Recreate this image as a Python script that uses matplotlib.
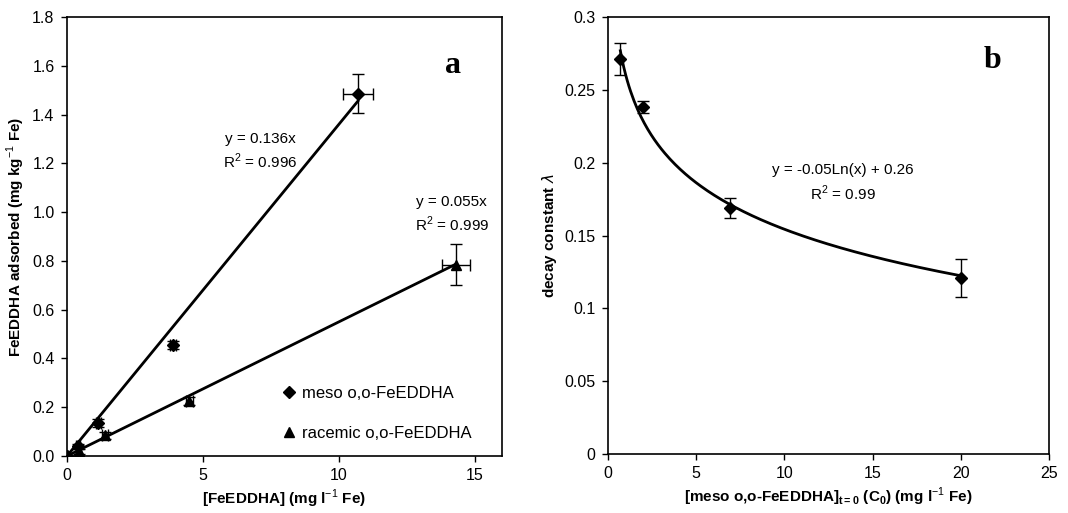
import numpy as np
import matplotlib.pyplot as plt
from matplotlib.lines import Line2D

plt.rcParams['font.family'] = ['Liberation Sans', 'DejaVu Sans']
plt.rcParams['mathtext.fontset'] = 'custom'
plt.rcParams['mathtext.rm'] = 'Liberation Sans'
plt.rcParams['mathtext.bf'] = 'Liberation Sans:bold'

# panel a: adsorbed FeEDDHA vs concentration
meso_x = [0.0, 0.4, 1.15, 3.9, 10.7]
meso_y = [0.0, 0.04, 0.135, 0.455, 1.485]
meso_xerr = [0.0, 0.08, 0.1, 0.12, 0.55]
meso_yerr = [0.0, 0.01, 0.015, 0.015, 0.08]
meso_slope = 0.136

rac_x = [0.0, 0.45, 1.4, 4.5, 14.3]
rac_y = [0.0, 0.02, 0.085, 0.225, 0.785]
rac_xerr = [0.0, 0.08, 0.12, 0.12, 0.52]
rac_yerr = [0.0, 0.01, 0.015, 0.015, 0.085]
rac_slope = 0.055

# panel b: decay constant vs initial concentration
c0 = [0.7, 2.0, 6.9, 20.0]
decay = [0.271, 0.238, 0.169, 0.121]
decay_err = [0.011, 0.004, 0.007, 0.013]

fig = plt.figure(figsize=(10.68, 5.13), dpi=100)
ax1 = fig.add_axes([67 / 1068, 1 - 456 / 513, 435 / 1068, 439 / 513])
ax2 = fig.add_axes([608 / 1068, 1 - 454 / 513, 441 / 1068, 437 / 513])

# --- a ---
xm = np.linspace(0, max(meso_x), 50)
xr = np.linspace(0, max(rac_x), 50)
ax1.plot(xm, meso_slope * xm, color='black', lw=2, zorder=2)
ax1.plot(xr, rac_slope * xr, color='black', lw=2, zorder=2)
ax1.errorbar(meso_x, meso_y, xerr=meso_xerr, yerr=meso_yerr, fmt='D', ms=6,
             color='black', ecolor='black', elinewidth=1, capsize=4, zorder=3)
ax1.errorbar(rac_x, rac_y, xerr=rac_xerr, yerr=rac_yerr, fmt='^', ms=7,
             color='black', ecolor='black', elinewidth=1, capsize=4, zorder=3)

ax1.set_xlim(0, 16)
ax1.set_ylim(0, 1.8)
ax1.set_xticks([0, 5, 10, 15])
ax1.set_yticks(np.arange(0, 1.81, 0.2))
ax1.set_yticklabels([f'{v:.1f}' for v in np.arange(0, 1.81, 0.2)])
ax1.set_xlabel(r'[FeEDDHA] (mg l$^{-1}$ Fe)', fontsize=11, fontweight='bold',
               labelpad=3)
ax1.set_ylabel(r'FeEDDHA adsorbed (mg kg$^{-1}$ Fe)', fontsize=11,
               fontweight='bold')

ax1.text(7.1, 1.30, 'y = 0.136x', ha='center', va='center', fontsize=11)
ax1.text(7.1, 1.21, 'R$^2$ = 0.996', ha='center', va='center', fontsize=11)
ax1.text(14.15, 1.04, 'y = 0.055x', ha='center', va='center', fontsize=11)
ax1.text(14.15, 0.95, 'R$^2$ = 0.999', ha='center', va='center', fontsize=11)
ax1.text(14.2, 1.6, 'a', ha='center', va='center', fontsize=23,
         fontweight='bold', family='Liberation Serif')

handles = [Line2D([], [], marker='D', ms=6, color='black', ls='none'),
           Line2D([], [], marker='^', ms=7, color='black', ls='none')]
ax1.legend(handles, ['meso o,o-FeEDDHA', 'racemic o,o-FeEDDHA'], frameon=False,
           loc='lower left', bbox_to_anchor=(0.46, 0.0), fontsize=12,
           labelspacing=1.5, handlelength=0.8, handletextpad=0.4)

# --- b ---
# logarithmic trendline fitted to the measured points
k, b = np.polyfit(np.log(c0), decay, 1)
xc = np.linspace(min(c0), max(c0), 200)
ax2.plot(xc, k * np.log(xc) + b, color='black', lw=2, zorder=2)
ax2.errorbar(c0, decay, yerr=decay_err, fmt='D', ms=6, color='black',
             ecolor='black', elinewidth=1, capsize=4, zorder=3)

ax2.set_xlim(0, 25)
ax2.set_ylim(0, 0.3)
ax2.set_xticks([0, 5, 10, 15, 20, 25])
yt = [0, 0.05, 0.1, 0.15, 0.2, 0.25, 0.3]
ax2.set_yticks(yt)
ax2.set_yticklabels(['0', '0.05', '0.1', '0.15', '0.2', '0.25', '0.3'])
ax2.set_xlabel(r'[meso o,o-FeEDDHA]$_{\mathbf{t=0}}$ (C$_{\mathbf{0}}$) (mg l$^{-1}$ Fe)',
               fontsize=11, fontweight='bold', labelpad=3)
ax2.set_ylabel(r'decay constant $\lambda$', fontsize=11, fontweight='bold')

ax2.text(13.3, 0.195, 'y = -0.05Ln(x) + 0.26', ha='center', va='center', fontsize=11)
ax2.text(13.3, 0.179, 'R$^2$ = 0.99', ha='center', va='center', fontsize=11)
ax2.text(21.8, 0.27, 'b', ha='center', va='center', fontsize=23,
         fontweight='bold', family='Liberation Serif')

for ax in (ax1, ax2):
    ax.tick_params(direction='out', length=4, width=1, labelsize=11.5,
                   colors='black', pad=5)
    for s in ax.spines.values():
        s.set_linewidth(1.2)

fig.savefig('out.png', dpi=100)
